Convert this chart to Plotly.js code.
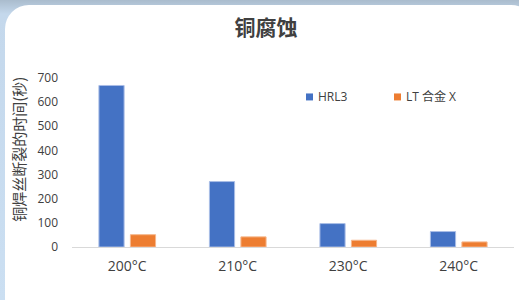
<!DOCTYPE html>
<html>
<head>
<meta charset="utf-8">
<script src="https://cdn.plot.ly/plotly-3.0.1.min.js"></script>
<style>
  html, body { margin: 0; padding: 0; }
  body { width: 519px; height: 300px; overflow: hidden; position: relative;
         background: linear-gradient(to bottom, #aabccd 0px, #c4d8ec 14px, #cbdff2 100%); }
  #card { position: absolute; left: 5px; top: 5px; width: 530px; height: 320px;
          background: #ffffff; border-radius: 24px; }
  #chart { position: absolute; left: 0; top: 0; width: 519px; height: 300px; }
</style>
</head>
<body>
<div id="card"></div>
<div id="chart"></div>
<script>
// ---- data ----
const categories = ['200°C', '210°C', '230°C', '240°C'];
const seriesNames = ['HRL3', 'LT 合金 X'];
const hrl3Values = [669, 271, 97, 64];
const ltValues = [51, 42, 28, 21];
const yTickValues = [0, 100, 200, 300, 400, 500, 600, 700];
const chartTitle = '铜腐蚀';
const yAxisTitle = '铜焊丝断裂的时间(秒)';
const seriesColors = ['#4472c4', '#ed7d31'];
const seriesEdge = ['#a9bde6', '#f6b78c'];

const font = '"Open Sans", "Noto Sans CJK SC", sans-serif';
const cjkFont = '"Noto Sans CJK SC", "Open Sans", sans-serif';

const traces = [
  { type: 'bar', name: seriesNames[0], x: categories, y: hrl3Values,
    marker: { color: seriesColors[0], line: { color: seriesEdge[0], width: 1 } }, hoverinfo: 'none' },
  { type: 'bar', name: seriesNames[1], x: categories, y: ltValues,
    marker: { color: seriesColors[1], line: { color: seriesEdge[1], width: 1 } }, hoverinfo: 'none' }
];

// manual compact legend (Excel style)
const legendX = [306, 394];   // px positions of squares
const legendY = 97;
const plotL = 72, plotR = 514, plotT = 78, plotB = 247.5;
const W = plotR - plotL, H = plotB - plotT;
const px2x = p => (p - plotL) / W;
const px2y = p => (plotB - p) / H;

const shapes = legendX.map((lx, i) => ({
  type: 'rect', xref: 'paper', yref: 'paper',
  x0: px2x(lx), x1: px2x(lx + 7), y0: px2y(legendY + 3.5), y1: px2y(legendY - 3.5),
  fillcolor: seriesColors[i], line: { width: 0 }
}));

const annotations = legendX.map((lx, i) => ({
  xref: 'paper', yref: 'paper', x: px2x(lx + 10), y: px2y(legendY),
  xanchor: 'left', yanchor: 'middle', showarrow: false,
  text: seriesNames[i], font: { family: font, size: 12, color: '#404040' }
}));
annotations.push({
  xref: 'paper', yref: 'paper', x: px2x(19), y: px2y(150),
  xanchor: 'center', yanchor: 'middle', showarrow: false, textangle: -90,
  text: yAxisTitle, font: { family: cjkFont, size: 15, color: '#404040' }
});

const layout = {
  width: 519, height: 300,
  margin: { l: plotL, r: 519 - plotR, t: plotT, b: 300 - plotB },
  paper_bgcolor: 'rgba(0,0,0,0)', plot_bgcolor: 'rgba(0,0,0,0)',
  title: { text: '<b>' + chartTitle + '</b>', x: 266 / 519, xanchor: 'center',
           y: 1 - 28 / 300, yanchor: 'middle',
           font: { family: cjkFont, size: 21, color: '#404040' } },
  showlegend: false,
  barmode: 'group', bargap: 0.43, bargroupgap: 0.2,
  xaxis: { type: 'category', showgrid: false, zeroline: false, showline: true,
           linecolor: '#d9d9d9', linewidth: 1, ticks: '', ticklabelstandoff: 6,
           tickfont: { family: font, size: 14, color: '#404040' } },
  yaxis: { range: [0, 700], tickvals: yTickValues, showgrid: false, zeroline: false,
           showline: false, ticks: '', ticklabelstandoff: 13,
           tickfont: { family: font, size: 12, color: '#404040' } },
  shapes: shapes,
  annotations: annotations
};

Plotly.newPlot('chart', traces, layout, { staticPlot: true, displayModeBar: false });
</script>
</body>
</html>
